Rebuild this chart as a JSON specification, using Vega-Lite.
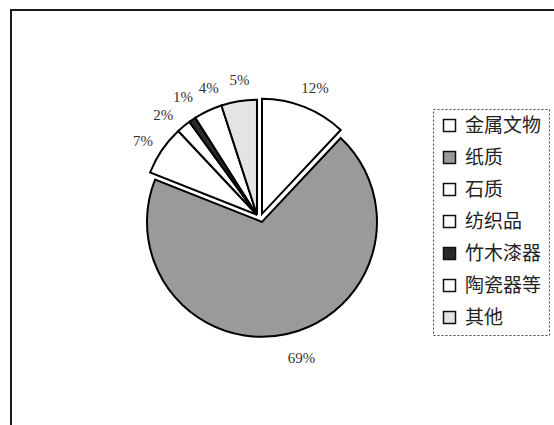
{
  "$schema": "https://vega.github.io/schema/vega-lite/v6.json",
  "width": 554,
  "height": 425,
  "autosize": {"type": "fit", "contains": "padding"},
  "padding": {"left": 10, "top": 9, "right": -6, "bottom": -3},
  "background": "white",
  "config": {
    "view": {"stroke": null},
    "text": {"font": "Liberation Serif"}
  },
  "data": {
    "values": [
      {"cat": "金属文物", "pct": 12, "ord": 1, "label": "12%"},
      {"cat": "纸质", "pct": 69, "ord": 2, "label": "69%"},
      {"cat": "石质", "pct": 7, "ord": 3, "label": "7%"},
      {"cat": "纺织品", "pct": 2, "ord": 4, "label": "2%"},
      {"cat": "竹木漆器", "pct": 1, "ord": 5, "label": "1%"},
      {"cat": "陶瓷器等", "pct": 4, "ord": 6, "label": "4%"},
      {"cat": "其他", "pct": 5, "ord": 7, "label": "5%"}
    ]
  },
  "layer": [
    {
      "mark": {"type": "rect", "fill": null, "stroke": "#1a1a1a", "strokeWidth": 2},
      "encoding": {}
    },
    {
      "mark": {"type": "arc", "outerRadius": 115, "stroke": "black", "strokeWidth": 2,
               "x": {"expr": "width * 0.458"}, "y": {"expr": "height * 0.508"}},
      "encoding": {
        "theta": {"field": "pct", "type": "quantitative", "stack": true},
        "order": {"field": "ord", "type": "quantitative"},
        "color": {
          "field": "cat", "type": "nominal",
          "scale": {
            "domain": ["金属文物", "纸质", "石质", "纺织品", "竹木漆器", "陶瓷器等", "其他"],
            "range": ["#ffffff", "#9a9a9a", "#ffffff", "#ffffff", "#2a2a2a", "#ffffff", "#e4e4e4"]
          },
          "legend": {
            "title": null,
            "orient": "none",
            "legendX": 422,
            "legendY": 99,
            "padding": 7,
            "strokeColor": "#444",
            "symbolType": "square",
            "symbolSize": 144,
            "symbolStrokeColor": "#111",
            "symbolStrokeWidth": 1.5,
            "symbolOpacity": 1,
            "labelFont": "Noto Sans CJK SC",
            "labelFontSize": 19,
            "labelColor": "#222",
            "labelOffset": 6,
            "rowPadding": 12,
            "labelLimit": 200,
            "encode": {"legend": {"update": {"strokeDash": {"value": [2, 2]}}}}
          }
        },
        "opacity": {"condition": {"test": "datum.cat === '纸质'", "value": 1}, "value": 0}
      }
    },
    {
      "mark": {"type": "arc", "outerRadius": 115, "stroke": "black", "strokeWidth": 2,
               "x": {"expr": "width * 0.458"}, "y": {"expr": "height * 0.508"}, "yOffset": -8},
      "encoding": {
        "theta": {"field": "pct", "type": "quantitative", "stack": true},
        "order": {"field": "ord", "type": "quantitative"},
        "color": {"field": "cat", "type": "nominal"},
        "opacity": {"condition": {"test": "datum.cat === '金属文物'", "value": 1}, "value": 0}
      }
    },
    {
      "mark": {"type": "arc", "outerRadius": 115, "stroke": "black", "strokeWidth": 2,
               "x": {"expr": "width * 0.458"}, "y": {"expr": "height * 0.508"}, "xOffset": -5, "yOffset": -7},
      "encoding": {
        "theta": {"field": "pct", "type": "quantitative", "stack": true},
        "order": {"field": "ord", "type": "quantitative"},
        "color": {"field": "cat", "type": "nominal"},
        "opacity": {"condition": {"test": "datum.ord >= 3", "value": 1}, "value": 0}
      }
    },
    {
      "mark": {"type": "text", "radius": 144, "fontSize": 15, "color": "#333",
               "x": {"expr": "width * 0.458"}, "y": {"expr": "height * 0.508"}},
      "encoding": {
        "theta": {"field": "pct", "type": "quantitative", "stack": true},
        "order": {"field": "ord", "type": "quantitative"},
        "text": {"field": "label", "type": "nominal"},
        "opacity": {"condition": {"test": "indexof(['12%','7%','5%'], datum.label) >= 0", "value": 1}, "value": 0}
      }
    },
    {
      "mark": {"type": "text", "radius": 144, "fontSize": 15, "color": "#333",
               "x": {"expr": "width * 0.458"}, "y": {"expr": "height * 0.508"}, "dx": 8, "dy": -4},
      "encoding": {
        "theta": {"field": "pct", "type": "quantitative", "stack": true},
        "order": {"field": "ord", "type": "quantitative"},
        "text": {"field": "label", "type": "nominal"},
        "opacity": {"condition": {"test": "datum.label === '4%' || datum.label === '69%'", "value": 1}, "value": 0}
      }
    },
    {
      "mark": {"type": "text", "radius": 144, "fontSize": 15, "color": "#333",
               "x": {"expr": "width * 0.458"}, "y": {"expr": "height * 0.508"}, "dx": 2, "dy": -6},
      "encoding": {
        "theta": {"field": "pct", "type": "quantitative", "stack": true},
        "order": {"field": "ord", "type": "quantitative"},
        "text": {"field": "label", "type": "nominal"},
        "opacity": {"condition": {"test": "datum.label === '1%'", "value": 1}, "value": 0}
      }
    },
    {
      "mark": {"type": "text", "radius": 144, "fontSize": 15, "color": "#333",
               "x": {"expr": "width * 0.458"}, "y": {"expr": "height * 0.508"}, "dx": -7, "dy": 4},
      "encoding": {
        "theta": {"field": "pct", "type": "quantitative", "stack": true},
        "order": {"field": "ord", "type": "quantitative"},
        "text": {"field": "label", "type": "nominal"},
        "opacity": {"condition": {"test": "datum.label === '2%'", "value": 1}, "value": 0}
      }
    }
  ]
}
